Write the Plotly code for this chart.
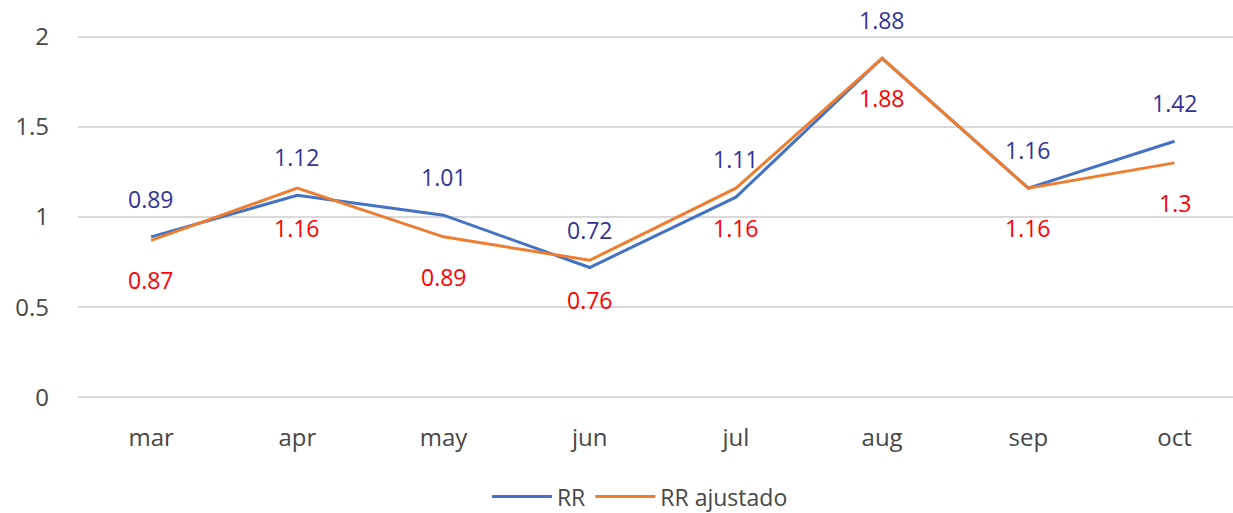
import plotly.graph_objects as go

months = ["mar", "apr", "may", "jun", "jul", "aug", "sep", "oct"]
rr = [0.89, 1.12, 1.01, 0.72, 1.11, 1.88, 1.16, 1.42]
rr_ajustado = [0.87, 1.16, 0.89, 0.76, 1.16, 1.88, 1.16, 1.30]
y_ticks = [0, 0.5, 1, 1.5, 2]

FONT = "Open Sans"
TXT = "#474747"
fig = go.Figure()
fig.add_trace(go.Scatter(x=months, y=rr, mode="lines", name="RR",
                         line=dict(color="#4472C4", width=3)))
fig.add_trace(go.Scatter(x=months, y=rr_ajustado, mode="lines", name="RR ajustado",
                         line=dict(color="#ED7D31", width=3)))

for m, v in zip(months, rr):
    fig.add_annotation(x=m, y=v, text=f"{v:g}", showarrow=False, yshift=38,
                       font=dict(family=FONT, size=23, color="#333399"))
for m, v in zip(months, rr_ajustado):
    fig.add_annotation(x=m, y=v, text=f"{v:g}", showarrow=False, yshift=-40,
                       font=dict(family=FONT, size=23, color="#FF0000"))

fig.update_layout(
    width=1233, height=513,
    margin=dict(l=78, r=0, t=35, b=114),
    plot_bgcolor="white", paper_bgcolor="white",
    font=dict(family=FONT, size=24, color=TXT),
    showlegend=True,
    legend=dict(orientation="h", xref="container", yref="container",
                x=0.519, xanchor="center", y=0.032, yanchor="middle",
                font=dict(size=23, color=TXT), itemwidth=60),
    xaxis=dict(range=[-0.5, 7.4], showgrid=False, zeroline=False, showline=False,
               ticks="", ticklabelstandoff=22),
    yaxis=dict(range=[-0.009, 2.009], tickvals=y_ticks,
               ticktext=[f"{t:g}" for t in y_ticks],
               showgrid=True, gridcolor="#D9D9D9", gridwidth=2,
               zeroline=True, zerolinecolor="#D9D9D9", zerolinewidth=2,
               showline=False, ticks="", ticklabelstandoff=28),
)

fig.write_html("out.html", config={"displayModeBar": False},
               post_script="document.body.style.margin='0';document.body.style.padding='0';")
